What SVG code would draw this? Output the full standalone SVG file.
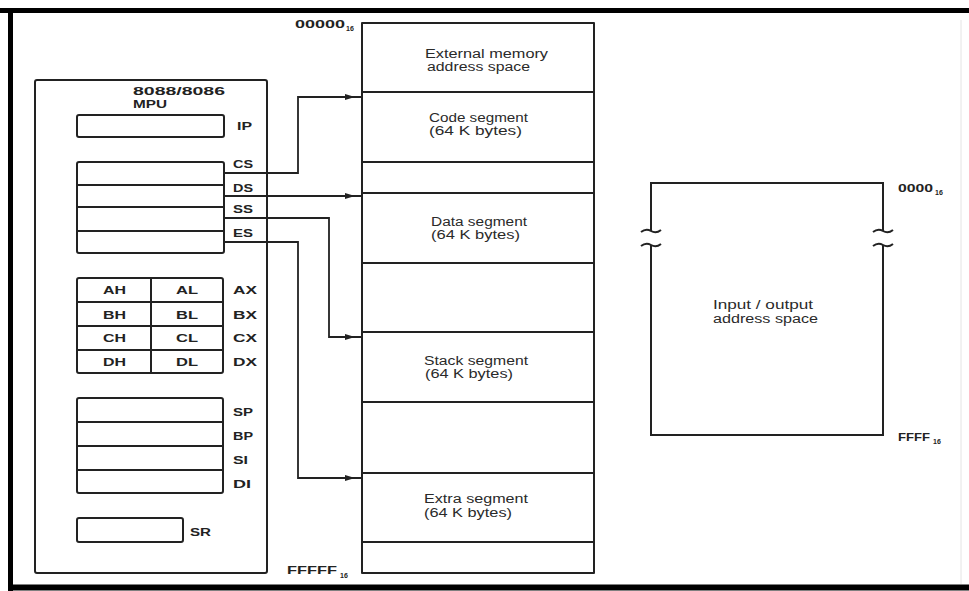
<svg xmlns="http://www.w3.org/2000/svg" width="969" height="591" viewBox="0 0 969 591">
<style>
.bx{fill:none;stroke:#222;stroke-width:2;stroke-linejoin:round}
.ln{fill:none;stroke:#222;stroke-width:2}
.wire{fill:none;stroke:#222;stroke-width:1.8}
.lb{font-family:"Liberation Sans",Arial,sans-serif;font-weight:bold;font-size:11px;fill:#222}
.tx{font-family:"Liberation Sans",Arial,sans-serif;font-size:12px;fill:#2a2a2a}
.sub{font-family:"Liberation Sans",Arial,sans-serif;font-weight:bold;font-size:7px;fill:#222}
.ah{fill:#222}
</style>
<defs>
<path id="ah" d="M-10,-3 L0,0 L-10,3 z"/>
</defs>
<rect x="0" y="0" width="969" height="591" fill="#fff"/>
<g id="frame">
<line x1="0" y1="10.5" x2="969" y2="10.5" stroke="#000" stroke-width="5"/>
<line x1="10.5" y1="8" x2="10.5" y2="591" stroke="#000" stroke-width="5"/>
<line x1="8" y1="587.5" x2="969" y2="587.5" stroke="#000" stroke-width="6"/>
<line x1="961" y1="20" x2="961" y2="584" stroke="#e4e4e4" stroke-width="1"/>
</g>
<g id="mpu">
<rect class="bx" x="35" y="80" width="232" height="493" rx="2"/>
<text class="lb" x="133" y="95" textLength="92" lengthAdjust="spacingAndGlyphs">8088/8086</text>
<text class="lb" x="133" y="108" textLength="34" lengthAdjust="spacingAndGlyphs">MPU</text>
</g>
<g id="ip">
<rect class="bx" x="77" y="115" width="147" height="22" rx="2"/>
<text class="lb" x="237" y="130" textLength="15" lengthAdjust="spacingAndGlyphs">IP</text>
</g>
<g id="segregs">
<rect class="bx" x="77" y="162" width="147" height="91" rx="2"/>
<line class="ln" x1="77" y1="185" x2="224" y2="185"/>
<line class="ln" x1="77" y1="207" x2="224" y2="207"/>
<line class="ln" x1="77" y1="231" x2="224" y2="231"/>
<text class="lb" x="233" y="168" textLength="20" lengthAdjust="spacingAndGlyphs">CS</text>
<text class="lb" x="233" y="192" textLength="20" lengthAdjust="spacingAndGlyphs">DS</text>
<text class="lb" x="233" y="213" textLength="20" lengthAdjust="spacingAndGlyphs">SS</text>
<text class="lb" x="233" y="237" textLength="20" lengthAdjust="spacingAndGlyphs">ES</text>
</g>
<g id="genregs">
<rect class="bx" x="77" y="278" width="146" height="95" rx="2"/>
<line class="ln" x1="77" y1="302" x2="223" y2="302"/>
<line class="ln" x1="77" y1="326" x2="223" y2="326"/>
<line class="ln" x1="77" y1="350" x2="223" y2="350"/>
<line class="ln" x1="151" y1="278" x2="151" y2="373"/>
<text class="lb" x="103" y="294" textLength="23" lengthAdjust="spacingAndGlyphs">AH</text>
<text class="lb" x="103" y="319" textLength="23" lengthAdjust="spacingAndGlyphs">BH</text>
<text class="lb" x="103" y="342" textLength="23" lengthAdjust="spacingAndGlyphs">CH</text>
<text class="lb" x="103" y="366" textLength="23" lengthAdjust="spacingAndGlyphs">DH</text>
<text class="lb" x="176" y="294" textLength="22" lengthAdjust="spacingAndGlyphs">AL</text>
<text class="lb" x="176" y="319" textLength="22" lengthAdjust="spacingAndGlyphs">BL</text>
<text class="lb" x="176" y="342" textLength="22" lengthAdjust="spacingAndGlyphs">CL</text>
<text class="lb" x="176" y="366" textLength="22" lengthAdjust="spacingAndGlyphs">DL</text>
<text class="lb" x="233" y="294" textLength="24" lengthAdjust="spacingAndGlyphs">AX</text>
<text class="lb" x="233" y="319" textLength="24" lengthAdjust="spacingAndGlyphs">BX</text>
<text class="lb" x="233" y="342" textLength="24" lengthAdjust="spacingAndGlyphs">CX</text>
<text class="lb" x="233" y="366" textLength="24" lengthAdjust="spacingAndGlyphs">DX</text>
</g>
<g id="ptrregs">
<rect class="bx" x="77" y="398" width="146" height="95" rx="2"/>
<line class="ln" x1="77" y1="422" x2="223" y2="422"/>
<line class="ln" x1="77" y1="446" x2="223" y2="446"/>
<line class="ln" x1="77" y1="470" x2="223" y2="470"/>
<text class="lb" x="233" y="416" textLength="20" lengthAdjust="spacingAndGlyphs">SP</text>
<text class="lb" x="233" y="440" textLength="20" lengthAdjust="spacingAndGlyphs">BP</text>
<text class="lb" x="233" y="464" textLength="15" lengthAdjust="spacingAndGlyphs">SI</text>
<text class="lb" x="233" y="488" textLength="18" lengthAdjust="spacingAndGlyphs">DI</text>
</g>
<g id="sr">
<rect class="bx" x="77" y="518" width="106" height="24" rx="2"/>
<text class="lb" x="190" y="536" textLength="21" lengthAdjust="spacingAndGlyphs">SR</text>
</g>
<g id="memory">
<rect class="bx" x="362" y="23" width="232" height="550"/>
<line class="ln" x1="362" y1="92" x2="594" y2="92"/>
<line class="ln" x1="362" y1="162" x2="594" y2="162"/>
<line class="ln" x1="362" y1="193" x2="594" y2="193"/>
<line class="ln" x1="362" y1="263" x2="594" y2="263"/>
<line class="ln" x1="362" y1="332" x2="594" y2="332"/>
<line class="ln" x1="362" y1="402" x2="594" y2="402"/>
<line class="ln" x1="362" y1="473" x2="594" y2="473"/>
<line class="ln" x1="362" y1="542" x2="594" y2="542"/>
<text class="tx" x="425" y="58" textLength="123" lengthAdjust="spacingAndGlyphs">External memory</text>
<text class="tx" x="427" y="71" textLength="103" lengthAdjust="spacingAndGlyphs">address space</text>
<text class="tx" x="429" y="122" textLength="99" lengthAdjust="spacingAndGlyphs">Code segment</text>
<text class="tx" x="429" y="135" textLength="93" lengthAdjust="spacingAndGlyphs">(64 K bytes)</text>
<text class="tx" x="431" y="226" textLength="96" lengthAdjust="spacingAndGlyphs">Data segment</text>
<text class="tx" x="431" y="239" textLength="89" lengthAdjust="spacingAndGlyphs">(64 K bytes)</text>
<text class="tx" x="424" y="365" textLength="104" lengthAdjust="spacingAndGlyphs">Stack segment</text>
<text class="tx" x="425" y="378" textLength="88" lengthAdjust="spacingAndGlyphs">(64 K bytes)</text>
<text class="tx" x="424" y="503" textLength="104" lengthAdjust="spacingAndGlyphs">Extra segment</text>
<text class="tx" x="424" y="517" textLength="88" lengthAdjust="spacingAndGlyphs">(64 K bytes)</text>
<text class="lb" x="295" y="28" textLength="50" lengthAdjust="spacingAndGlyphs">00000</text>
<text class="sub" x="346" y="31">16</text>
<text class="lb" x="287" y="574" textLength="50" lengthAdjust="spacingAndGlyphs">FFFFF</text>
<text class="sub" x="340" y="578">16</text>
</g>
<g id="io">
<path class="ln" d="M651,231 V183 H883 V231"/>
<path class="ln" d="M651,245 V435 H883 V245"/>
<path class="ln" d="M641,232 q5,-4 10,-1 t10,-1"/>
<path class="ln" d="M641,246 q5,-4 10,-1 t10,-1"/>
<path class="ln" d="M873,232 q5,-4 10,-1 t10,-1"/>
<path class="ln" d="M873,246 q5,-4 10,-1 t10,-1"/>
<text class="tx" x="713" y="309" textLength="100" lengthAdjust="spacingAndGlyphs">Input / output</text>
<text class="tx" x="713" y="323" textLength="105" lengthAdjust="spacingAndGlyphs">address space</text>
<text class="lb" x="898" y="192" textLength="35" lengthAdjust="spacingAndGlyphs">0000</text>
<text class="sub" x="935" y="195">16</text>
<text class="lb" x="898" y="441" textLength="32" lengthAdjust="spacingAndGlyphs">FFFF</text>
<text class="sub" x="933" y="444">16</text>
</g>
<g id="connectors">
<path class="wire" d="M224,173 H298 V97 H362"/>
<path class="wire" d="M224,196 H362"/>
<path class="wire" d="M224,218 H329 V337 H362"/>
<path class="wire" d="M224,242 H298 V478 H362"/>
<use href="#ah" class="ah" x="355" y="97"/>
<use href="#ah" class="ah" x="355" y="196"/>
<use href="#ah" class="ah" x="355" y="337"/>
<use href="#ah" class="ah" x="355" y="478"/>
</g>
</svg>
